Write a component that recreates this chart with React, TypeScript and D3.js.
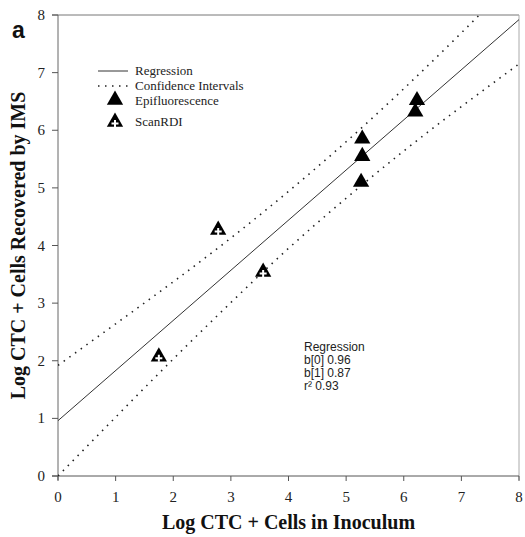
import React from "react";
import * as d3 from "d3";

const epiX = [6.23, 6.2, 5.28, 5.28, 5.26];
const epiY = [6.52, 6.32, 5.85, 5.55, 5.1];
const scanX = [2.78, 3.56, 1.75];
const scanY = [4.27, 3.54, 2.07];
const regX = [0, 8];
const regY = [0.96, 7.92];
const ciX = [0, 1, 2, 3, 4, 5, 6, 7, 8];
const ciUpper = [1.92, 2.64, 3.37, 4.13, 4.94, 5.8, 6.72, 7.69, 8.69];
const ciLower = [0.0, 1.02, 2.03, 3.01, 3.95, 4.82, 5.64, 6.41, 7.15];
const ticks = [0, 1, 2, 3, 4, 5, 6, 7, 8];
const legendLabels = ["Regression", "Confidence Intervals", "Epifluorescence", "ScanRDI"];
const statLines = ["Regression", "b[0] 0.96", "b[1] 0.87", "r\u00B2 0.93"];

const W = 525;
const H = 537;
const L = 58, R = 519, T = 15, B = 476;

export default function App() {
  const x = d3.scaleLinear().domain([0, 8]).range([L, R]);
  const y = d3.scaleLinear().domain([0, 8]).range([B, T]);
  const line = d3.line<[number, number]>().x((d) => x(d[0])).y((d) => y(d[1]));
  const curve = d3
    .line<[number, number]>()
    .x((d) => x(d[0]))
    .y((d) => y(d[1]))
    .curve(d3.curveNatural);
  const tri = d3.symbol().type(d3.symbolTriangle).size(115)();
  const serif = "'Liberation Serif', 'Times New Roman', serif";
  const sans = "'Liberation Sans', Arial, sans-serif";
  const regPts = regX.map((v, i) => [v, regY[i]] as [number, number]);
  const upPts = ciX.map((v, i) => [v, ciUpper[i]] as [number, number]);
  const loPts = ciX.map((v, i) => [v, ciLower[i]] as [number, number]);
  const plus = "M-3.5,0H3.5M0,-3.5V3.5";

  return (
    <div style={{ position: "fixed", left: 0, top: 0 }}>
      <svg width={W} height={H} style={{ display: "block", background: "#fff" }}>
        <defs>
          <clipPath id="plotclip">
            <rect x={L} y={T} width={R - L} height={B - T} />
          </clipPath>
        </defs>
        {/* frame */}
        <line x1={L - 6} x2={R} y1={T} y2={T} stroke="#777" strokeWidth={1} />
        <line x1={R} x2={R} y1={T} y2={B + 4} stroke="#aaa" strokeWidth={1} />
        <line x1={L} x2={L} y1={T} y2={B + 4} stroke="#666" strokeWidth={1} />
        <line x1={L - 6} x2={R} y1={B} y2={B} stroke="#555" strokeWidth={1} />
        {ticks.map((t) => (
          <g key={"y" + t}>
            <line x1={L - 6} x2={L} y1={y(t)} y2={y(t)} stroke="#555" />
            <text x={L - 13} y={y(t) + 5} textAnchor="end" fontFamily={serif} fontSize={15} fill="#222">
              {t}
            </text>
          </g>
        ))}
        {ticks.map((t) => (
          <g key={"x" + t}>
            <line x1={x(t)} x2={x(t)} y1={B} y2={B + 5} stroke="#555" />
            <text x={x(t)} y={B + 26} textAnchor="middle" fontFamily={serif} fontSize={15} fill="#222">
              {t}
            </text>
          </g>
        ))}
        <g clipPath="url(#plotclip)">
          <path d={line(regPts) || ""} fill="none" stroke="#333" strokeWidth={1} />
          <path d={curve(upPts) || ""} fill="none" stroke="#222" strokeWidth={1.6} strokeDasharray="1.5,5.5" />
          <path d={curve(loPts) || ""} fill="none" stroke="#222" strokeWidth={1.6} strokeDasharray="1.5,5.5" />
        </g>
        {epiX.map((v, i) => (
          <path key={"e" + i} d={tri || ""} transform={`translate(${x(v)},${y(epiY[i])})`} fill="#000" />
        ))}
        {scanX.map((v, i) => (
          <g key={"s" + i} transform={`translate(${x(v)},${y(scanY[i])})`}>
            <path d={tri || ""} fill="#000" />
            <path d={plus} transform="translate(0,1.5)" stroke="#fff" strokeWidth={2} />
          </g>
        ))}
        {/* legend */}
        <line x1={98} x2={128} y1={71} y2={71} stroke="#333" strokeWidth={1} />
        <line x1={98} x2={130} y1={86} y2={86} stroke="#222" strokeWidth={1.6} strokeDasharray="1.5,5.5" />
        <path d={tri || ""} transform="translate(115,100)" fill="#000" />
        <g transform="translate(115,122)">
          <path d={tri || ""} fill="#000" />
          <path d={plus} transform="translate(0,1.5)" stroke="#fff" strokeWidth={2} />
        </g>
        {legendLabels.map((s, i) => (
          <text key={s} x={135} y={[75, 90, 105, 126][i]} fontFamily={serif} fontSize={13} fill="#222">
            {s}
          </text>
        ))}
        {statLines.map((s, i) => (
          <text key={s} x={304} y={351 + i * 13} fontFamily={sans} fontSize={12} fill="#222">
            {s}
          </text>
        ))}
        <text x={12} y={38} fontFamily={sans} fontWeight="bold" fontSize={23} fill="#111">
          a
        </text>
        <text x={(L + R) / 2} y={529} textAnchor="middle" fontFamily={serif} fontWeight="bold" fontSize={20} fill="#111">
          Log CTC + Cells in Inoculum
        </text>
        <text
          transform={`translate(25,${(T + B) / 2}) rotate(-90)`}
          textAnchor="middle"
          fontFamily={serif}
          fontWeight="bold"
          fontSize={20}
          fill="#111"
        >
          Log CTC + Cells Recovered by IMS
        </text>
      </svg>
    </div>
  );
}
